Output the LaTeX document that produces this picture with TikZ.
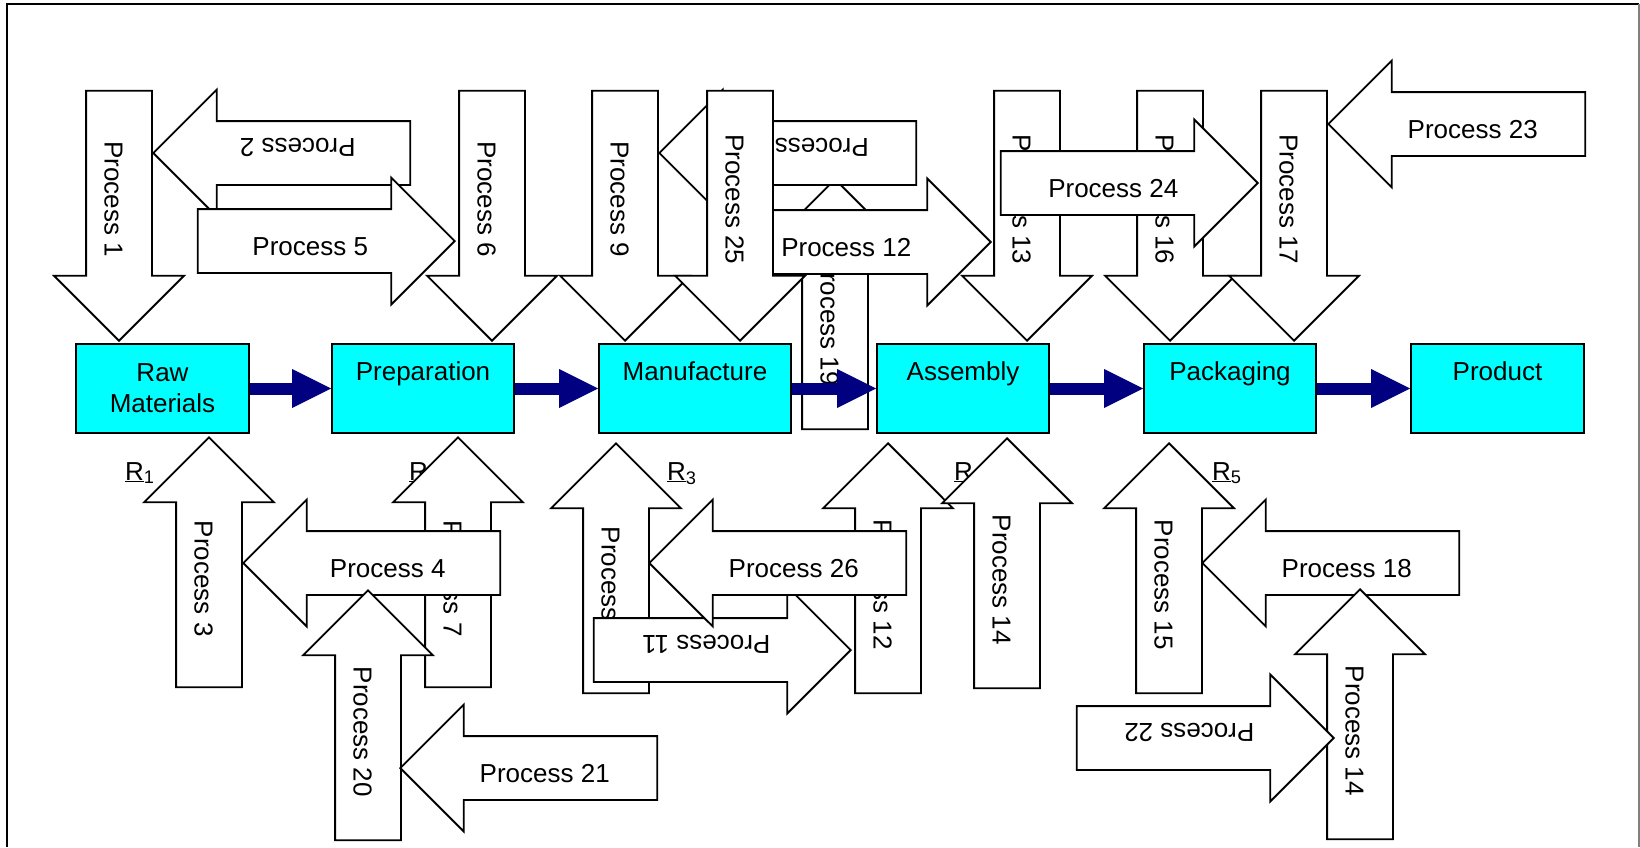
\documentclass[tikz,border=0pt]{standalone}
\usepackage{fontspec}
\setmainfont{Liberation Sans}
\usetikzlibrary{arrows.meta,shapes.arrows}
\definecolor{navy}{RGB}{0,0,128}
\definecolor{aqua}{RGB}{0,255,255}

\begin{document}
\begin{tikzpicture}[
  x=1pt, y=-1pt,
  font=\fontsize{26}{31}\selectfont,
  stage/.style={draw=black, line width=1.8pt, fill=aqua, minimum height=89pt, align=center, inner sep=0pt},
  proc/.style={single arrow, draw=black, line width=1.8pt, fill=white, anchor=tip, text height=29pt, text depth=0pt, inner xsep=6pt},
  vproc/.style={proc, inner ysep=17.5pt, single arrow head extend=32pt, minimum height=250pt},
  hproc/.style={proc, inner ysep=16.5pt, single arrow head extend=31.5pt, minimum height=257pt},
  pdown/.style={vproc, rotate=-90},
  pup/.style={vproc, rotate=-90, shape border rotate=180},
  pright/.style={hproc},
  pleft/.style={hproc, shape border rotate=180},
  pleftinv/.style={hproc, rotate=180},
  prightinv/.style={hproc, rotate=180, shape border rotate=180},
  flow/.style={draw=navy, line width=12pt, -{Triangle[length=39pt,width=39pt,line width=0pt]}},
  rlab/.style={anchor=base west, inner sep=0pt}
]
\useasboundingbox (0,0) rectangle (1640,847);

% frame
\draw[line width=2pt] (7,847) -- (7,4) -- (1639,4);
\draw[gray, line width=1.5pt] (1639,4) -- (1639,847);

% stages
\foreach \nm/\cx/\bw/\td/\txt in {raw/162.5/173/1pt/{Raw\\Materials}, prep/423/182/34pt/Preparation, manu/695/192/34pt/Manufacture, asm/963/172/34pt/Assembly, pack/1230/172/34pt/Packaging, prod/1497.5/173/34pt/Product} {
  \node[stage, minimum width=\bw, text depth=\td] (\nm) at (\cx,388.5) {\txt};
}

% resource labels
\node[rlab] (r1) at (125,480) {\underline{R}\textsubscript{1}};
\node[rlab] (r2) at (409,480) {\underline{R}};
\node[rlab] (r3) at (667,480) {\underline{R}\textsubscript{3}};
\node[rlab] (r4) at (954,480) {\underline{R}};
\node[rlab] (r5) at (1212,480) {\underline{R}\textsubscript{5}};

% upper processes
\node[pdown] (p1) at (119,342) {Process 1};
\node[pleftinv] (p2) at (152,153) {Process 2};
\node[pright] (p5) at (456,241) {Process 5};
\node[pdown] (p6) at (492,342) {Process 6};
\node[pdown] (p9) at (625,342) {Process 9};
\node[pup] (p19) at (835,178) {Process 19};
\node[pleftinv] (p10) at (658,153) {Process\phantom{ 10}};
\node[pright] (p12a) at (992,242) {Process 12};
\node[pdown] (p25) at (740,342) {Process 25};
\node[pdown] (p13) at (1027,342) {Process 13};
\node[pdown] (p16) at (1170,342) {Process 16};
\node[pdown] (p17) at (1294,342) {Process 17};
\node[pright] (p24) at (1259,183) {Process 24};
\node[pleft] (p23) at (1327,124) {Process 23};

% lower processes
\node[pup] (p3) at (209,436) {Process 3};
\node[pup] (p7) at (458,436) {Process 7};
\node[pleft] (p4) at (242,563) {Process 4};
\node[pup] (p20) at (368,589) {Process 20};
\node[pleft] (p21) at (399,768) {Process 21};
\node[pup] (p8) at (616,442) {Process\phantom{ 8}};
\node[pup] (p12b) at (888,442) {Process 12};
\node[prightinv] (p11) at (852,650) {Process 11};
\node[pleft] (p26) at (648,563) {Process 26};
\node[pup] (p14a) at (1007,437) {Process 14};
\node[pup] (p15) at (1169,442) {Process 15};
\node[pleft] (p18) at (1201,563) {Process 18};
\node[pup] (p14b) at (1360,588) {Process 14};
\node[prightinv] (p22) at (1335,738) {Process 22};

% main flow
\foreach \a/\b in {raw/prep, prep/manu, manu/asm, asm/pack, pack/prod} {
  \draw[flow] (\a) -- (\b);
}
\end{tikzpicture}
\end{document}
